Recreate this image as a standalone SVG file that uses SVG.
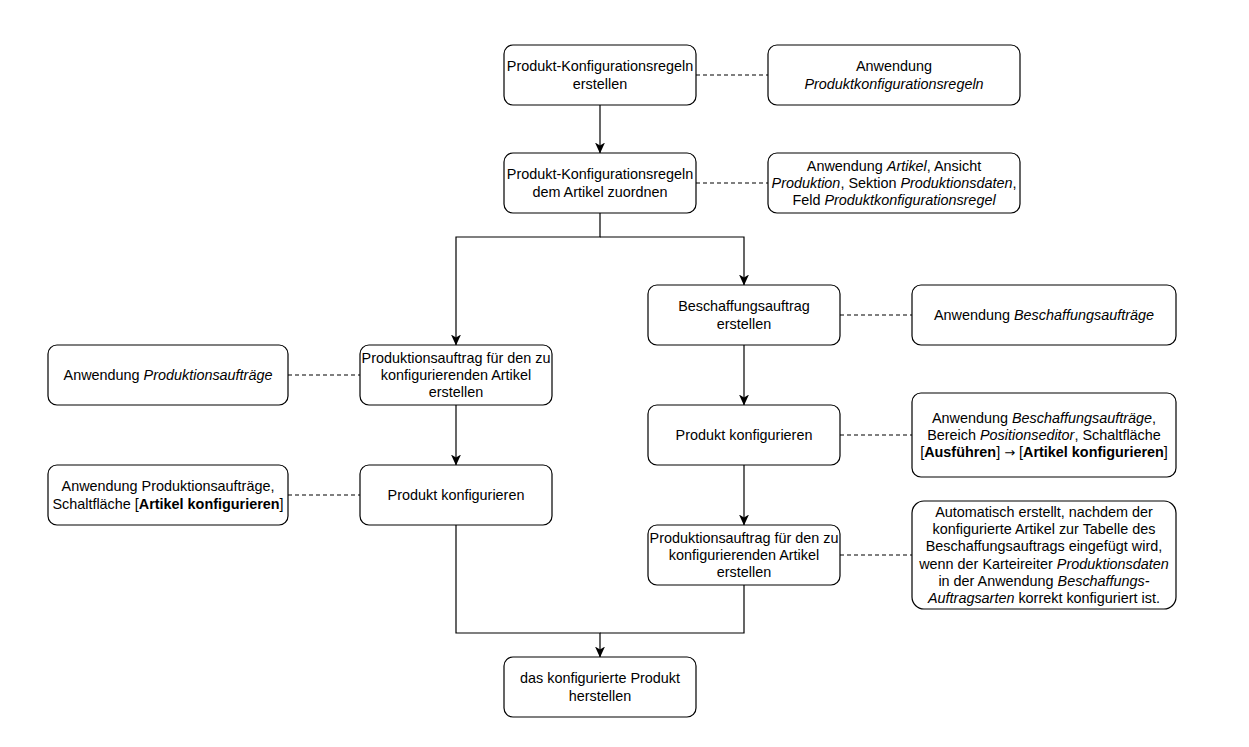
<svg xmlns="http://www.w3.org/2000/svg" width="1249" height="747" viewBox="0 0 1249 747">
<style>
.box{fill:#fff;stroke:#000;stroke-width:1.2}
.t{font-family:"Liberation Sans",Arial,Helvetica,sans-serif;font-size:14.4px;fill:#000;text-anchor:middle}
.i{font-style:italic}
.b{font-weight:bold}
.ar{font-family:"DejaVu Sans",sans-serif;font-size:13px}
.edge{fill:none;stroke:#000;stroke-width:1.2}
.dash{fill:none;stroke:#000;stroke-width:1.2;stroke-dasharray:4 3}
</style>
<defs>
<marker id="arr" markerUnits="userSpaceOnUse" markerWidth="11" markerHeight="10" refX="10.5" refY="5" orient="auto" viewBox="0 0 11 10">
<path d="M0,0 L11,5 L0,10 L3,5 Z" fill="#000"/>
</marker>
</defs>
<rect width="1249" height="747" fill="#fff"/>
<g id="connectors">
<path class="edge" d="M600 105 V153" marker-end="url(#arr)"/>
<path class="edge" d="M600 213 V237 H456 V345" marker-end="url(#arr)"/>
<path class="edge" d="M600 237 H744 V285" marker-end="url(#arr)"/>
<path class="edge" d="M744 345 V405" marker-end="url(#arr)"/>
<path class="edge" d="M744 465 V525" marker-end="url(#arr)"/>
<path class="edge" d="M456 405 V465" marker-end="url(#arr)"/>
<path class="edge" d="M456 525 V633 H600 V657" marker-end="url(#arr)"/>
<path class="edge" d="M744 585 V633 H600"/>
<path class="dash" d="M696 75 H768"/>
<path class="dash" d="M696 183 H768"/>
<path class="dash" d="M840 315 H912"/>
<path class="dash" d="M840 435 H912"/>
<path class="dash" d="M840 555 H912"/>
<path class="dash" d="M288 375 H360"/>
<path class="dash" d="M288 495 H360"/>
</g>
<g id="n1">
<rect class="box" x="504" y="45" width="192" height="60" rx="9"/>
<text class="t" x="600" y="71.36">Produkt-Konfigurationsregeln</text>
<text class="t" x="600" y="88.64">erstellen</text>
</g>
<g id="n1note">
<rect class="box" x="768" y="45" width="252" height="60" rx="9"/>
<text class="t" x="894" y="71.36">Anwendung</text>
<text class="t i" x="894" y="88.64">Produktkonfigurationsregeln</text>
</g>
<g id="n2">
<rect class="box" x="504" y="153" width="192" height="60" rx="9"/>
<text class="t" x="600" y="179.36">Produkt-Konfigurationsregeln</text>
<text class="t" x="600" y="196.64">dem Artikel zuordnen</text>
</g>
<g id="n2note">
<rect class="box" x="768" y="153" width="252" height="60" rx="9"/>
<text class="t" x="894" y="170.72">Anwendung <tspan class="i">Artikel</tspan>, Ansicht</text>
<text class="t" x="894" y="188"><tspan class="i">Produktion</tspan>, Sektion <tspan class="i">Produktionsdaten</tspan>,</text>
<text class="t" x="894" y="205.28">Feld <tspan class="i">Produktkonfigurationsregel</tspan></text>
</g>
<g id="n3">
<rect class="box" x="648" y="285" width="192" height="60" rx="9"/>
<text class="t" x="744" y="311.36">Beschaffungsauftrag</text>
<text class="t" x="744" y="328.64">erstellen</text>
</g>
<g id="n3note">
<rect class="box" x="912" y="285" width="264" height="60" rx="9"/>
<text class="t" x="1044" y="320">Anwendung <tspan class="i">Beschaffungsaufträge</tspan></text>
</g>
<g id="n4">
<rect class="box" x="648" y="405" width="192" height="60" rx="9"/>
<text class="t" x="744" y="440">Produkt konfigurieren</text>
</g>
<g id="n4note">
<rect class="box" x="912" y="393" width="264" height="84" rx="9"/>
<text class="t" x="1044" y="422.72">Anwendung <tspan class="i">Beschaffungsaufträge</tspan>,</text>
<text class="t" x="1044" y="440">Bereich <tspan class="i">Positionseditor</tspan>, Schaltfläche</text>
<text class="t" x="1044" y="457.28">[<tspan class="b">Ausführen</tspan>] <tspan class="ar">→</tspan> [<tspan class="b">Artikel konfigurieren</tspan>]</text>
</g>
<g id="n5">
<rect class="box" x="648" y="525" width="192" height="60" rx="9"/>
<text class="t" x="744" y="542.72">Produktionsauftrag für den zu</text>
<text class="t" x="744" y="560">konfigurierenden Artikel</text>
<text class="t" x="744" y="577.28">erstellen</text>
</g>
<g id="n5note">
<rect class="box" x="912" y="501" width="264" height="108" rx="12"/>
<text class="t" x="1044" y="516.8">Automatisch erstellt, nachdem der</text>
<text class="t" x="1044" y="534.08">konfigurierte Artikel zur Tabelle des</text>
<text class="t" x="1044" y="551.36">Beschaffungsauftrags eingefügt wird,</text>
<text class="t" x="1044" y="568.64">wenn der Karteireiter <tspan class="i">Produktionsdaten</tspan></text>
<text class="t" x="1044" y="585.92">in der Anwendung <tspan class="i">Beschaffungs-</tspan></text>
<text class="t" x="1044" y="603.2"><tspan class="i">Auftragsarten</tspan> korrekt konfiguriert ist.</text>
</g>
<g id="n6">
<rect class="box" x="360" y="345" width="192" height="60" rx="9"/>
<text class="t" x="456" y="362.72">Produktionsauftrag für den zu</text>
<text class="t" x="456" y="380">konfigurierenden Artikel</text>
<text class="t" x="456" y="397.28">erstellen</text>
</g>
<g id="n6note">
<rect class="box" x="48" y="345" width="240" height="60" rx="9"/>
<text class="t" x="168" y="380">Anwendung <tspan class="i">Produktionsaufträge</tspan></text>
</g>
<g id="n7">
<rect class="box" x="360" y="465" width="192" height="60" rx="9"/>
<text class="t" x="456" y="500">Produkt konfigurieren</text>
</g>
<g id="n7note">
<rect class="box" x="48" y="465" width="240" height="60" rx="9"/>
<text class="t" x="168" y="491.36">Anwendung Produktionsaufträge,</text>
<text class="t" x="168" y="508.64">Schaltfläche [<tspan class="b">Artikel konfigurieren</tspan>]</text>
</g>
<g id="n8">
<rect class="box" x="504" y="657" width="192" height="60" rx="9"/>
<text class="t" x="600" y="683.36">das konfigurierte Produkt</text>
<text class="t" x="600" y="700.64">herstellen</text>
</g>
</svg>
